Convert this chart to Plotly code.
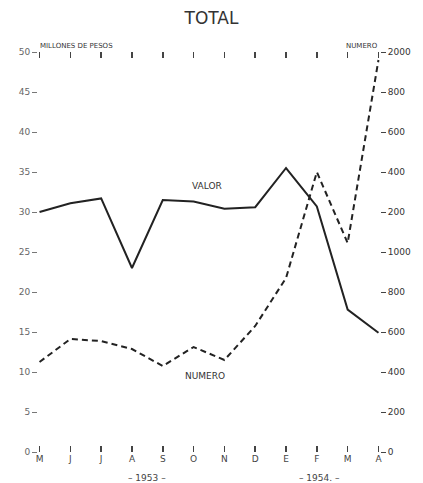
import plotly.graph_objects as go

months = ["M", "J", "J", "A", "S", "O", "N", "D", "E", "F", "M", "A"]
valor = [30.0, 31.1, 31.7, 23.0, 31.5, 31.3, 30.4, 30.6, 35.5, 30.7, 17.8, 14.9]
numero = [450, 565, 555, 515, 430, 525, 460, 630, 870, 1400, 1045, 1960]
left_ticks = [0, 5, 10, 15, 20, 25, 30, 35, 40, 45, 50]
right_ticks = [0, 200, 400, 600, 800, 1000, 1200, 1400, 1600, 1800, 2000]
right_text = ["0", "200", "400", "600", "800", "1000", "200", "400", "600", "800", "2000"]

x = list(range(len(months)))
ink = "#222222"
grey = "#444444"

fig = go.Figure()
fig.add_trace(go.Scatter(x=x, y=valor, mode="lines", line=dict(color=ink, width=2),
                         showlegend=False, yaxis="y", hoverinfo="skip"))
fig.add_trace(go.Scatter(x=x, y=numero, mode="lines",
                         line=dict(color=ink, width=2, dash="6px,4px"),
                         showlegend=False, yaxis="y2", hoverinfo="skip"))

fig.update_layout(
    width=423, height=483,
    margin=dict(l=38, r=35, t=52, b=31),
    paper_bgcolor="white", plot_bgcolor="white",
    title=dict(text="TOTAL", x=0.5, xanchor="center", y=0.962, yanchor="middle",
               font=dict(family="DejaVu Sans", size=17, color="#333333")),
    xaxis=dict(range=[-0.05, 11.05], tickvals=x, ticktext=months, showgrid=False,
               zeroline=False, showline=False, ticks="inside", ticklen=6, tickwidth=1.5,
               tickcolor=grey, mirror="ticks",
               tickfont=dict(family="DejaVu Sans", size=9, color=grey)),
    yaxis=dict(range=[0, 50], tickvals=left_ticks, showgrid=False, zeroline=False,
               showline=False, ticks="outside", ticklen=5, tickcolor="#777777",
               tickfont=dict(family="DejaVu Sans", size=9, color="#666666")),
    yaxis2=dict(range=[0, 2000], tickvals=right_ticks, ticktext=right_text,
                overlaying="y", side="right", showgrid=False, zeroline=False,
                showline=False, ticks="outside", ticklen=5, tickcolor=grey,
                tickfont=dict(family="DejaVu Sans", size=9, color="#333333")),
)

fig.add_annotation(x=5.45, y=33.3, xref="x", yref="y", text="VALOR", showarrow=False,
                   font=dict(family="DejaVu Sans", size=9, color="#333333"))
fig.add_annotation(x=5.36, y=9.5, xref="x", yref="y", text="NUMERO", showarrow=False,
                   font=dict(family="DejaVu Sans", size=9, color="#333333"))
fig.add_annotation(x=0.0, y=1.0, xref="paper", yref="paper", xanchor="left", yanchor="bottom",
                   text="MILLONES DE PESOS", showarrow=False,
                   font=dict(family="DejaVu Sans", size=7, color="#333333"))
fig.add_annotation(x=1.0, y=1.0, xref="paper", yref="paper", xanchor="right", yanchor="bottom",
                   text="NUMERO", showarrow=False,
                   font=dict(family="DejaVu Sans", size=7, color="#333333"))
fig.add_annotation(x=3.5, y=0, xref="x", yref="paper", yanchor="top", yshift=-19,
                   text="– 1953 –", showarrow=False,
                   font=dict(family="DejaVu Sans", size=9, color=grey))
fig.add_annotation(x=9.1, y=0, xref="x", yref="paper", yanchor="top", yshift=-19,
                   text="– 1954. –", showarrow=False,
                   font=dict(family="DejaVu Sans", size=9, color=grey))

fig.write_html("out.html", config={"displayModeBar": False, "staticPlot": True},
               post_script="document.body.style.margin='0';")
